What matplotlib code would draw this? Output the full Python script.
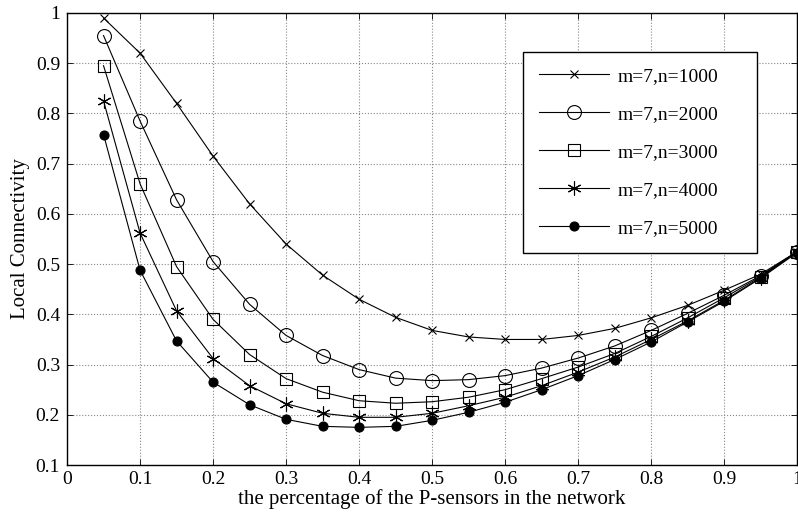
import numpy as np
import matplotlib
matplotlib.use("Agg")
import matplotlib.pyplot as plt

plt.rcParams["font.family"] = "serif"
plt.rcParams["font.serif"] = ["Liberation Serif", "DejaVu Serif"]

x = [0.05, 0.10, 0.15, 0.20, 0.25, 0.30, 0.35, 0.40, 0.45, 0.50,
     0.55, 0.60, 0.65, 0.70, 0.75, 0.80, 0.85, 0.90, 0.95, 1.00]

n1000 = [0.990, 0.920, 0.820, 0.715, 0.620, 0.540, 0.478, 0.430, 0.394, 0.368,
         0.355, 0.350, 0.350, 0.358, 0.372, 0.393, 0.418, 0.448, 0.480, 0.525]
n2000 = [0.955, 0.785, 0.628, 0.505, 0.420, 0.358, 0.318, 0.290, 0.273, 0.268,
         0.270, 0.278, 0.293, 0.313, 0.337, 0.368, 0.402, 0.438, 0.477, 0.525]
n3000 = [0.895, 0.660, 0.495, 0.390, 0.320, 0.272, 0.245, 0.228, 0.223, 0.226,
         0.235, 0.250, 0.272, 0.295, 0.322, 0.356, 0.393, 0.433, 0.475, 0.525]
n4000 = [0.825, 0.562, 0.407, 0.312, 0.258, 0.222, 0.203, 0.195, 0.195, 0.203,
         0.218, 0.235, 0.258, 0.285, 0.315, 0.350, 0.387, 0.428, 0.473, 0.525]
n5000 = [0.758, 0.488, 0.347, 0.265, 0.220, 0.191, 0.177, 0.175, 0.177, 0.189,
         0.205, 0.225, 0.250, 0.278, 0.310, 0.345, 0.385, 0.426, 0.472, 0.523]

labels = ["m=7,n=1000", "m=7,n=2000", "m=7,n=3000", "m=7,n=4000", "m=7,n=5000"]
series = [n1000, n2000, n3000, n4000, n5000]

xtick_labels = ["0", "0.1", "0.2", "0.3", "0.4", "0.5", "0.6", "0.7", "0.8", "0.9", "1"]
ytick_labels = ["0.1", "0.2", "0.3", "0.4", "0.5", "0.6", "0.7", "0.8", "0.9", "1"]

# marker styles mimic the MATLAB ones
styles = [
    dict(marker="x", markersize=6, markerfacecolor="none", markeredgewidth=0.8),
    dict(marker="o", markersize=10, markerfacecolor="none", markeredgewidth=0.8),
    dict(marker="s", markersize=8.5, markerfacecolor="none", markeredgewidth=0.8),
    dict(marker=(6, 2, 0), markersize=10, markeredgewidth=0.8),
    dict(marker="o", markersize=6.5, markerfacecolor="black", markeredgewidth=0.8),
]

fig = plt.figure(figsize=(7.98, 5.19), dpi=100)
ax = fig.add_axes([0.084, 0.104, 0.915, 0.871])

for y, lab, st in zip(series, labels, styles):
    ax.plot(x, y, color="black", linewidth=0.8, markeredgecolor="black",
            label=lab, **st)

ax.set_xlim(0, 1)
ax.set_ylim(0.1, 1)
ax.set_xticks(np.arange(0, 1.01, 0.1))
ax.set_yticks(np.arange(0.1, 1.01, 0.1))
ax.set_xticklabels(xtick_labels)
ax.set_yticklabels(ytick_labels)
ax.tick_params(direction="in", top=True, right=True, labelsize=14, length=4, width=0.6)
ax.tick_params(axis="y", pad=5)
ax.tick_params(axis="x", pad=4)
ax.grid(True, linestyle=":", color="#888888", linewidth=0.8)
for sp in ax.spines.values():
    sp.set_linewidth(1.0)

ax.set_xlabel("the percentage of the P-sensors in the network", fontsize=15, labelpad=1)
ax.set_ylabel("Local Connectivity", fontsize=15, labelpad=4)

# legend box stretched to the reference width (extra room on the right)
leg = ax.legend(loc="upper left", bbox_to_anchor=(0.625, 0.487, 0.32, 0.427),
                mode="expand", fontsize=14,
                frameon=True, fancybox=False, edgecolor="black", framealpha=1,
                handlelength=3.6, handletextpad=0.45, labelspacing=1.05,
                borderpad=0.8, borderaxespad=0)
leg.get_frame().set_linewidth(1.0)

fig.savefig("out.png", dpi=100)
